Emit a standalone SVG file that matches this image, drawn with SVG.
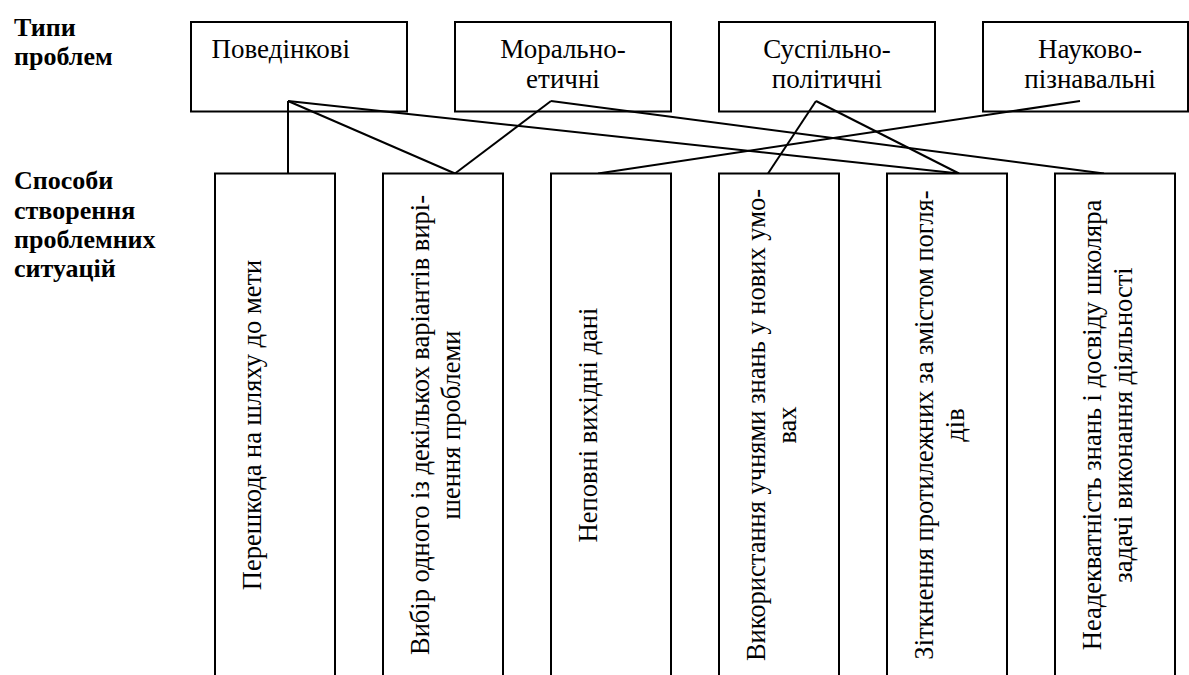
<svg xmlns="http://www.w3.org/2000/svg" width="1189" height="675" viewBox="0 0 1189 675">
<rect width="1189" height="675" fill="#fff"/>
<g id="label-types"><text x="14" y="36" font-family="Liberation Serif" font-size="26" font-weight="bold">Типи</text><text x="14" y="65" font-family="Liberation Serif" font-size="26" font-weight="bold">проблем</text></g>
<g id="label-ways"><text x="14" y="189" font-family="Liberation Serif" font-size="26" font-weight="bold">Способи</text><text x="14" y="218.5" font-family="Liberation Serif" font-size="26" font-weight="bold">створення</text><text x="14" y="248" font-family="Liberation Serif" font-size="26" font-weight="bold">проблемних</text><text x="14" y="277" font-family="Liberation Serif" font-size="26" font-weight="bold">ситуацій</text></g>
<g id="type-1"><rect x="191" y="22" width="216" height="89.5" fill="#fff" stroke="#000" stroke-width="2"/><text x="211.5" y="57.7" font-family="Liberation Serif" font-size="27">Поведінкові</text></g>
<g id="type-2"><rect x="455" y="22" width="216" height="89.5" fill="#fff" stroke="#000" stroke-width="2"/><text x="563" y="57.7" font-family="Liberation Serif" font-size="27" text-anchor="middle">Морально-</text><text x="563" y="87.7" font-family="Liberation Serif" font-size="27" text-anchor="middle">етичні</text></g>
<g id="type-3"><rect x="719" y="22" width="216" height="89.5" fill="#fff" stroke="#000" stroke-width="2"/><text x="827" y="57.7" font-family="Liberation Serif" font-size="27" text-anchor="middle">Суспільно-</text><text x="827" y="87.7" font-family="Liberation Serif" font-size="27" text-anchor="middle">політичні</text></g>
<g id="type-4"><rect x="983" y="22" width="205" height="89.5" fill="#fff" stroke="#000" stroke-width="2"/><text x="1090" y="57.7" font-family="Liberation Serif" font-size="27" text-anchor="middle">Науково-</text><text x="1090" y="87.7" font-family="Liberation Serif" font-size="27" text-anchor="middle">пізнавальні</text></g>
<g id="connectors" stroke="#000" stroke-width="2" fill="none">
<line x1="288" y1="101" x2="288" y2="173.5"/>
<line x1="288" y1="101" x2="455" y2="173.5"/>
<line x1="288" y1="101" x2="959" y2="173.5"/>
<line x1="551" y1="101" x2="455" y2="173.5"/>
<line x1="551" y1="101" x2="1104" y2="173.5"/>
<line x1="816" y1="101" x2="768" y2="173.5"/>
<line x1="816" y1="101" x2="959" y2="173.5"/>
<line x1="1080" y1="101" x2="598" y2="173.5"/>
</g>
<g id="way-1"><rect x="215" y="173.5" width="120" height="540" fill="#fff" stroke="#000" stroke-width="2"/><text transform="translate(260.5,425) rotate(-90)" x="0" y="0" font-family="Liberation Serif" font-size="26.5" text-anchor="middle">Перешкода на шляху до мети</text></g>
<g id="way-2"><rect x="383" y="173.5" width="120" height="540" fill="#fff" stroke="#000" stroke-width="2"/><text transform="translate(428.5,425) rotate(-90)" x="0" y="0" font-family="Liberation Serif" font-size="26.5" text-anchor="middle">Вибір одного із декількох варіантів вирі-</text><text transform="translate(460,425) rotate(-90)" x="0" y="0" font-family="Liberation Serif" font-size="26.5" text-anchor="middle">шення проблеми</text></g>
<g id="way-3"><rect x="551" y="173.5" width="120" height="540" fill="#fff" stroke="#000" stroke-width="2"/><text transform="translate(596.5,425) rotate(-90)" x="0" y="0" font-family="Liberation Serif" font-size="26.5" text-anchor="middle">Неповні вихідні дані</text></g>
<g id="way-4"><rect x="719" y="173.5" width="120" height="540" fill="#fff" stroke="#000" stroke-width="2"/><text transform="translate(764.5,425) rotate(-90)" x="0" y="0" font-family="Liberation Serif" font-size="26.5" text-anchor="middle">Використання учнями знань у нових умо-</text><text transform="translate(796,425) rotate(-90)" x="0" y="0" font-family="Liberation Serif" font-size="26.5" text-anchor="middle">вах</text></g>
<g id="way-5"><rect x="887" y="173.5" width="120" height="540" fill="#fff" stroke="#000" stroke-width="2"/><text transform="translate(932.5,425) rotate(-90)" x="0" y="0" font-family="Liberation Serif" font-size="26.5" text-anchor="middle">Зіткнення протилежних за змістом погля-</text><text transform="translate(964,425) rotate(-90)" x="0" y="0" font-family="Liberation Serif" font-size="26.5" text-anchor="middle">дів</text></g>
<g id="way-6"><rect x="1055" y="173.5" width="120" height="540" fill="#fff" stroke="#000" stroke-width="2"/><text transform="translate(1100.5,425) rotate(-90)" x="0" y="0" font-family="Liberation Serif" font-size="26.5" text-anchor="middle">Неадекватність знань і досвіду школяра</text><text transform="translate(1132,425) rotate(-90)" x="0" y="0" font-family="Liberation Serif" font-size="26.5" text-anchor="middle">задачі виконання діяльності</text></g>
</svg>
